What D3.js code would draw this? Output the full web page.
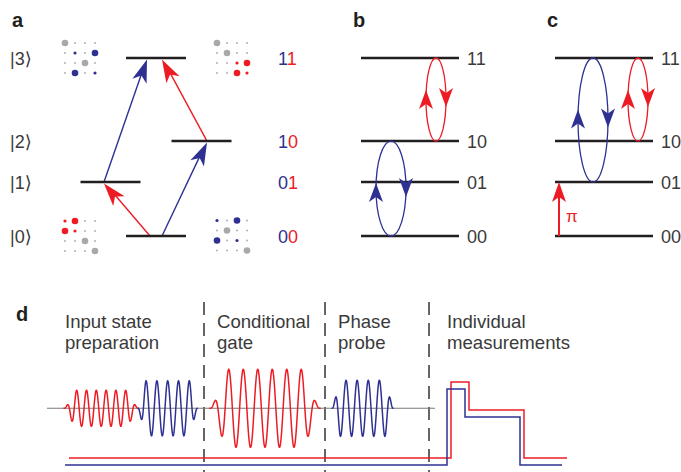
<!DOCTYPE html>
<html><head><meta charset="utf-8">
<script src="https://cdn.jsdelivr.net/npm/d3@7"></script>
<style>
body{margin:0;background:#fff}
svg{display:block;font-family:"Liberation Sans",Arial,Helvetica,"DejaVu Sans",sans-serif}
</style>
</head><body>
<svg id="fig" width="681" height="472"></svg>
<script>
// ---------------- data ----------------
const stateKets = ["|0⟩", "|1⟩", "|2⟩", "|3⟩"];
const stateNames = ["00", "01", "10", "11"];
const stateEnergies = [0, 1, 1.76, 3.3];

// density-matrix style dot grids (0 tiny gray, 1 small colour, 2 big colour, 3 big gray)
const gridState3Left  = [[3,0,0,0],[0,1,0,2],[0,0,3,0],[0,2,0,1]];
const gridState3Right = [[3,0,0,0],[0,3,0,0],[0,0,1,2],[0,0,2,1]];
const gridState0Left  = [[1,2,0,0],[2,1,0,0],[0,0,3,0],[0,0,0,3]];
const gridState0Right = [[1,0,2,0],[0,3,0,0],[2,0,1,0],[0,0,0,3]];

// panel a transitions [from, to, colour]
const transFrom = [0, 1, 0, 2];
const transTo   = [1, 3, 2, 3];
const transColor = ["red", "blue", "blue", "red"];

// panel b / c Rabi loops [lower, upper, colour]
const loopsB = [[0, 2, "blue"], [2, 3, "red"]];
const loopsC = [[1, 3, "blue"], [2, 3, "red"]];

// panel d pulses (time units, amplitude units)
const pulseColor  = ["red", "blue", "red", "blue"];
const pulseCenter = [54.2, 120.7, 218, 315.7];
const pulsePeriod = [9.8, 10.8, 14.5, 11.1];
const pulseAmp    = [18, 27.5, 39, 28];
const pulseSign   = [-1, 1, -1, -1];
const pulseFlat   = [2.5, 2.0, 2.5, 2.0];
const pulseRamp   = [1.35, 0.8, 1.35, 0.8];

const stageLabels = [["Input state", "preparation"], ["Conditional", "gate"], ["Phase", "probe"], ["Individual", "measurements"]];
const stageStart = [18, 170, 291, 400];
const stageDividers = [157, 278, 382];

// measurement read-out traces (step times and levels)
const measRedT  = [22, 404, 422, 477, 520];
const measRedV  = [0, 76, 48, 0, 0];
const measBlueT = [18, 400, 418, 473, 515];
const measBlueV = [0, 76, 48, 0, 0];

// ---------------- styles ----------------
const COL = {red: "#ed1c24", blue: "#2e3192"};
const GRAY = "#a7a9ac", INK = "#231f20", TXT = "#3a3a3a";

const svg = d3.select("#fig");

// energy scale shared by a, b, c
const yE = d3.scaleLinear().domain([0, 3.3]).range([236, 58]);

function arrowHead(g, tx, ty, ang, color, L = 19, W = 13, N = 5) {
  const pts = [[0, 0], [-L, -W / 2], [-L + N, 0], [-L, W / 2]];
  const c = Math.cos(ang), s = Math.sin(ang);
  const p = pts.map(([x, y]) => [tx + x * c - y * s, ty + x * s + y * c]);
  g.append("path").attr("d", "M" + p.map(q => q.join(",")).join("L") + "Z")
    .attr("fill", color).attr("stroke", "none");
}

// panel letters
[["a", 12], ["b", 353], ["c", 547]].forEach(([t, x]) =>
  svg.append("text").attr("x", x).attr("y", 27).text(t)
    .attr("font-weight", "bold").attr("font-size", 20).attr("fill", INK));
svg.append("text").attr("x", 16).attr("y", 321).text("d")
  .attr("font-weight", "bold").attr("font-size", 20).attr("fill", INK);

// ---------------- panel a ----------------
const ga = svg.append("g");
const levelCenterA = [156, 110.5, 201.5, 156];
const levelHalf = 30;
const transitX = {"0-1": [150, 104], "1-3": [104, 147], "0-2": [162, 207], "2-3": [207, 162]};

transFrom.forEach((f, i) => {
  const t = transTo[i];
  const [x0, x1] = transitX[f + "-" + t];
  const y0 = yE(stateEnergies[f]), y1 = yE(stateEnergies[t]);
  const ang = Math.atan2(y1 - y0, x1 - x0);
  const c = COL[transColor[i]];
  ga.append("line").attr("x1", x0).attr("y1", y0)
    .attr("x2", x1 - 15 * Math.cos(ang)).attr("y2", y1 - 15 * Math.sin(ang))
    .attr("stroke", c).attr("stroke-width", 1.4);
  arrowHead(ga, x1, y1 + 1.5, ang, c, 23, 15, 6);
});

stateEnergies.forEach((e, i) => {
  ga.append("line").attr("x1", levelCenterA[i] - levelHalf).attr("x2", levelCenterA[i] + levelHalf)
    .attr("y1", yE(e)).attr("y2", yE(e)).attr("stroke", INK).attr("stroke-width", 2.6);
  ga.append("text").attr("x", 10).attr("y", yE(e) + 6.5).text(stateKets[i])
    .attr("font-size", 18).attr("fill", TXT);
  const lab = ga.append("text").attr("x", 278).attr("y", yE(e) + 6.5).attr("font-size", 18);
  lab.append("tspan").text(stateNames[i][0]).attr("fill", COL.blue);
  lab.append("tspan").text(stateNames[i][1]).attr("fill", COL.red);
});

function dotGrid(grid, x0, y0, color) {
  const gx = d3.scaleLinear().domain([0, 3]).range([x0, x0 + 30]);
  const gy = d3.scaleLinear().domain([0, 3]).range([y0, y0 + 30]);
  const rad = [0.9, 1.6, 3.3, 3.3];
  grid.forEach((row, r) => row.forEach((v, c) => {
    ga.append("circle").attr("cx", gx(c)).attr("cy", gy(r)).attr("r", rad[v])
      .attr("fill", (v === 1 || v === 2) ? COL[color] : GRAY);
  }));
}
dotGrid(gridState3Left, 65, 43, "blue");
dotGrid(gridState3Right, 217, 43, "red");
dotGrid(gridState0Left, 65, 221, "red");
dotGrid(gridState0Right, 217, 220.5, "blue");

// ---------------- panels b, c ----------------
function levelPanel(x0, x1, labelX, loops, loopX) {
  const g = svg.append("g");
  stateEnergies.forEach((e, i) => {
    g.append("line").attr("x1", x0).attr("x2", x1).attr("y1", yE(e)).attr("y2", yE(e))
      .attr("stroke", INK).attr("stroke-width", 2.6);
    g.append("text").attr("x", labelX).attr("y", yE(e) + 6.5).text(stateNames[i])
      .attr("font-size", 18).attr("fill", TXT);
  });
  loops.forEach(([lo, hi, col], k) => {
    const ytop = yE(stateEnergies[hi]), ybot = yE(stateEnergies[lo]);
    const cx = loopX[k], cy = (ytop + ybot) / 2, ry = (ybot - ytop) / 2;
    const rx = col === "blue" ? 15 : 10;
    const c = COL[col];
    g.append("ellipse").attr("cx", cx).attr("cy", cy).attr("rx", rx).attr("ry", ry)
      .attr("fill", "none").attr("stroke", c).attr("stroke-width", 1.3);
    // arrow heads: up on left, down on right
    const upTip = cy - (col === "blue" ? 5.5 : 9.5) - (ry > 55 ? 5 : 0);
    const dnTip = cy + (col === "blue" ? 8.5 : 7.5) + (ry > 55 ? -1 : 0);
    arrowHead(g, cx - rx, upTip, -Math.PI / 2, c, 19, 14, 5);
    arrowHead(g, cx + rx, dnTip, Math.PI / 2, c, 19, 14, 5);
  });
  return g;
}
levelPanel(361, 459, 467, loopsB, [391, 436]);
const gc = levelPanel(555, 653, 661, loopsC, [593, 638]);
// pi pulse in c
gc.append("line").attr("x1", 559).attr("x2", 559).attr("y1", yE(stateEnergies[0]))
  .attr("y2", yE(stateEnergies[1]) + 12).attr("stroke", COL.red).attr("stroke-width", 2);
arrowHead(gc, 559, yE(stateEnergies[1]), -Math.PI / 2, COL.red, 20, 14, 5);
gc.append("text").attr("x", 566).attr("y", 222).text("π").attr("font-size", 17).attr("fill", COL.red);

// ---------------- panel d ----------------
const gd = svg.append("g");
const xT = d3.scaleLinear().domain([0, 520]).range([47, 567]);
const yA = d3.scaleLinear().domain([-40, 40]).range([448.3, 368.3]);

stageLabels.forEach((lines, i) => lines.forEach((t, j) =>
  gd.append("text").attr("x", xT(stageStart[i])).attr("y", 328 + j * 20.5).text(t)
    .attr("font-size", 18.6).attr("fill", TXT)));

stageDividers.forEach(t => gd.append("line").attr("x1", xT(t)).attr("x2", xT(t))
  .attr("y1", 302).attr("y2", 472).attr("stroke", "#333").attr("stroke-width", 1.5)
  .attr("stroke-dasharray", "13,8"));

gd.append("line").attr("x1", xT(0)).attr("x2", xT(388)).attr("y1", yA(0)).attr("y2", yA(0))
  .attr("stroke", "#7a7a7a").attr("stroke-width", 1.1);

const wline = d3.line().x(d => xT(d[0])).y(d => yA(d[1]));
pulseCenter.forEach((c, i) => {
  const p = pulsePeriod[i], half = (pulseFlat[i] + pulseRamp[i]) * p;
  const pts = [];
  for (let t = c - half; t <= c + half + 1e-9; t += 0.2) {
    const u = Math.abs(t - c) / p;
    let env = 1;
    if (u > pulseFlat[i]) { const r = (u - pulseFlat[i]) / pulseRamp[i]; env = r >= 1 ? 0 : Math.cos(Math.PI / 2 * r) ** 2; }
    pts.push([t, pulseSign[i] * pulseAmp[i] * env * Math.cos(2 * Math.PI * (t - c) / p)]);
  }
  gd.append("path").attr("d", wline(pts)).attr("fill", "none")
    .attr("stroke", COL[pulseColor[i]]).attr("stroke-width", 1.5);
});

const yM = d3.scaleLinear().domain([0, 76]).range([0, -76]);
function measTrace(T, V, base, color) {
  const pts = T.map((t, i) => [xT(t), base + yM(V[i])]);
  gd.append("path").attr("d", d3.line().curve(d3.curveStepAfter)(pts)).attr("fill", "none")
    .attr("stroke", color).attr("stroke-width", 1.5);
}
measTrace(measRedT, measRedV, 458, COL.red);
measTrace(measBlueT, measBlueV, 465, COL.blue);
</script>
</body></html>
